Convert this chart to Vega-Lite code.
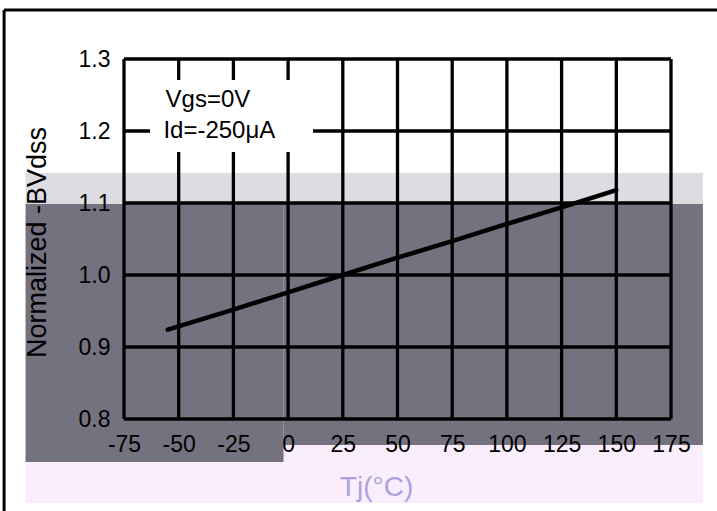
{
  "$schema": "https://vega.github.io/schema/vega-lite/v6.json",
  "width": 547,
  "height": 360,
  "autosize": "none",
  "padding": {"left": 124, "top": 59, "right": 46, "bottom": 92},
  "background": "white",
  "config": {"view": {"stroke": null}, "font": "Liberation Sans"},
  "datasets": {
    "curve": [
      {"Tj": -55, "BV": 0.924},
      {"Tj": -25, "BV": 0.952},
      {"Tj": 0, "BV": 0.976},
      {"Tj": 25, "BV": 1.0},
      {"Tj": 50, "BV": 1.024},
      {"Tj": 75, "BV": 1.047},
      {"Tj": 100, "BV": 1.071},
      {"Tj": 125, "BV": 1.094},
      {"Tj": 150, "BV": 1.118}
    ],
    "xgrid": [
      {"Tj": -75}, {"Tj": -50}, {"Tj": -25}, {"Tj": 0}, {"Tj": 25}, {"Tj": 50},
      {"Tj": 75}, {"Tj": 100}, {"Tj": 125}, {"Tj": 150}, {"Tj": 175}
    ],
    "ygrid": [
      {"BV": 0.8}, {"BV": 0.9}, {"BV": 1.0}, {"BV": 1.1}, {"BV": 1.2}, {"BV": 1.3}
    ],
    "notes": [
      {"label": "Vgs=0V", "Tj": -56, "BV": 1.243},
      {"label": "Id=-250μA", "Tj": -57, "BV": 1.2}
    ],
    "one": [{}]
  },
  "layer": [
    {
      "data": {"name": "one"},
      "mark": {"type": "rect", "color": "#dddce1"},
      "encoding": {
        "x": {"datum": -120, "type": "quantitative"},
        "x2": {"datum": 189.6},
        "y": {"datum": 1.1417, "type": "quantitative"},
        "y2": {"datum": 1.0986}
      }
    },
    {
      "data": {"name": "one"},
      "mark": {"type": "rect", "color": "#75727f"},
      "encoding": {
        "x": {"datum": -120, "type": "quantitative"},
        "x2": {"datum": -2},
        "y": {"datum": 1.0986, "type": "quantitative"},
        "y2": {"datum": 0.7403}
      }
    },
    {
      "data": {"name": "one"},
      "mark": {"type": "rect", "color": "#75727f"},
      "encoding": {
        "x": {"datum": -2, "type": "quantitative"},
        "x2": {"datum": 189.6},
        "y": {"datum": 1.0986, "type": "quantitative"},
        "y2": {"datum": 0.764}
      }
    },
    {
      "data": {"name": "one"},
      "mark": {"type": "rect", "color": "#fbeefc"},
      "encoding": {
        "x": {"datum": -120, "type": "quantitative"},
        "x2": {"datum": -2},
        "y": {"datum": 0.7403, "type": "quantitative"},
        "y2": {"datum": 0.6833}
      }
    },
    {
      "data": {"name": "one"},
      "mark": {"type": "rect", "color": "#fbeefc"},
      "encoding": {
        "x": {"datum": -2, "type": "quantitative"},
        "x2": {"datum": 189.6},
        "y": {"datum": 0.764, "type": "quantitative"},
        "y2": {"datum": 0.6833}
      }
    },
    {
      "data": {"name": "xgrid"},
      "mark": {"type": "rule", "color": "black", "strokeWidth": 3.3},
      "encoding": {
        "x": {"field": "Tj", "type": "quantitative"},
        "y": {"datum": 0.8, "type": "quantitative"},
        "y2": {"datum": 1.3}
      }
    },
    {
      "data": {"name": "ygrid"},
      "mark": {"type": "rule", "color": "black", "strokeWidth": 3.3},
      "encoding": {
        "y": {"field": "BV", "type": "quantitative"},
        "x": {"datum": -75, "type": "quantitative"},
        "x2": {"datum": 175}
      }
    },
    {
      "data": {"name": "one"},
      "mark": {"type": "rect", "color": "white"},
      "encoding": {
        "x": {"datum": -63.1, "type": "quantitative"},
        "x2": {"datum": 11.4},
        "y": {"datum": 1.2708, "type": "quantitative"},
        "y2": {"datum": 1.1708}
      }
    },
    {
      "data": {"name": "notes"},
      "mark": {"type": "text", "align": "left", "baseline": "middle", "fontSize": 24, "color": "black", "font": "Liberation Sans"},
      "encoding": {
        "x": {"field": "Tj", "type": "quantitative"},
        "y": {"field": "BV", "type": "quantitative"},
        "text": {"field": "label"}
      }
    },
    {
      "data": {"name": "curve"},
      "mark": {"type": "line", "color": "black", "strokeWidth": 4.5, "strokeCap": "round"},
      "encoding": {
        "x": {
          "field": "Tj",
          "type": "quantitative",
          "scale": {"domain": [-75, 175], "nice": false, "zero": false},
          "axis": {
            "values": [-75, -50, -25, 0, 25, 50, 75, 100, 125, 150, 175],
            "labelExpr": "toString(datum.value)",
            "labelOverlap": false,
            "labelFlush": false,
            "domain": false,
            "ticks": false,
            "grid": false,
            "zindex": 1,
            "labelFontSize": 23,
            "labelColor": "black",
            "labelPadding": 14,
            "labelFont": "Liberation Sans",
            "title": "Tj(°C)",
            "titleFont": "Liberation Sans",
            "titleFontSize": 28,
            "titleFontWeight": "normal",
            "titleColor": "#aaa3dd",
            "titleX": 252,
            "titleY": 68,
            "titleBaseline": "middle"
          }
        },
        "y": {
          "field": "BV",
          "type": "quantitative",
          "scale": {"domain": [0.8, 1.3], "nice": false, "zero": false},
          "axis": {
            "values": [0.8, 0.9, 1.0, 1.1, 1.2, 1.3],
            "format": ".1f",
            "labelOverlap": false,
            "labelFlush": false,
            "domain": false,
            "ticks": false,
            "grid": false,
            "zindex": 1,
            "labelFontSize": 23,
            "labelColor": "black",
            "labelPadding": 14,
            "labelFont": "Liberation Sans",
            "title": "Normalized  -BVdss",
            "titleFont": "Liberation Sans",
            "titleFontSize": 27,
            "titleFontWeight": "normal",
            "titleColor": "black",
            "titleX": -87,
            "titleY": 183,
            "titleBaseline": "middle"
          }
        }
      }
    },
    {
      "data": {"name": "one"},
      "mark": {"type": "rule", "color": "black", "strokeWidth": 3},
      "encoding": {
        "x": {"datum": -129.8, "type": "quantitative"},
        "y": {"datum": 1.368, "type": "quantitative"},
        "y2": {"datum": 0.66}
      }
    },
    {
      "data": {"name": "one"},
      "mark": {"type": "rule", "color": "black", "strokeWidth": 3},
      "encoding": {
        "y": {"datum": 1.368, "type": "quantitative"},
        "x": {"datum": -129.8, "type": "quantitative"},
        "x2": {"datum": 200}
      }
    }
  ]
}
